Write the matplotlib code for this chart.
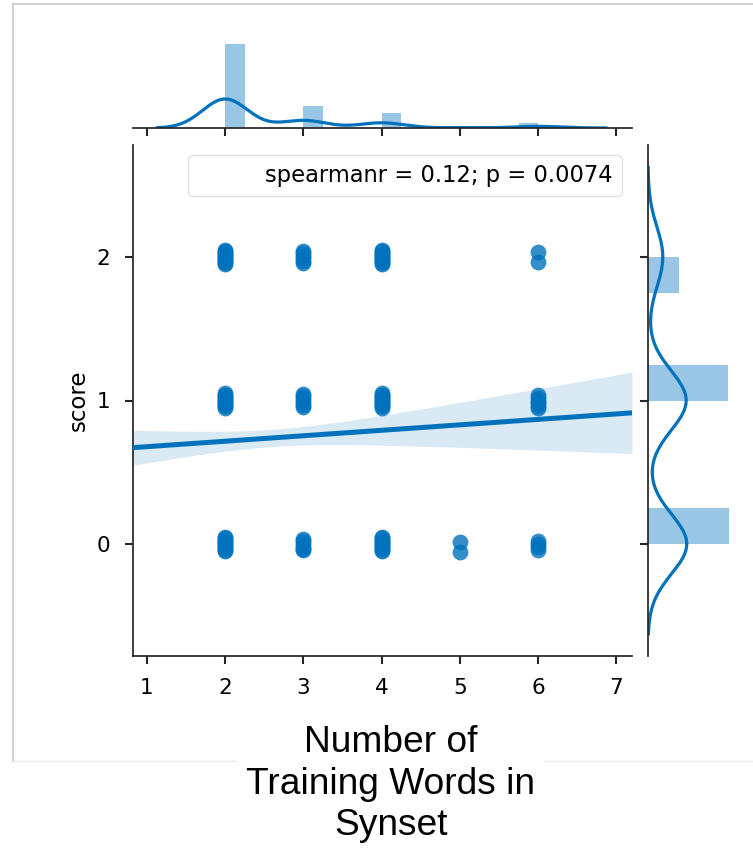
import numpy as np
import matplotlib
matplotlib.use("Agg")
import matplotlib.pyplot as plt
from matplotlib.lines import Line2D
from matplotlib.patches import Rectangle

# counts of items per (number of training words, score)
x_vals = [2, 3, 4, 5, 6]
count_score0 = [140, 35, 22, 4, 6]
count_score1 = [140, 32, 22, 0, 10]
count_score2 = [44, 18, 14, 0, 3]
scores = [0, 1, 2]

# jittered dot offsets (y) as they appear in each blob
full = [0.05, 0.04, 0.03, 0.02, 0.01, 0.0, -0.01, -0.02, -0.03, -0.04, -0.05]
jit_score0 = [full, [0.035, 0.02, 0.0, -0.02, -0.035, -0.045], full,
              [0.015, -0.055], [0.02, 0.0, -0.02, -0.045]]
jit_score1 = [full, [0.045, 0.03, 0.01, -0.01, -0.03, -0.045], full, [],
              [0.04, 0.02, 0.0, -0.02, -0.04, -0.05]]
jit_score2 = [full, [0.045, 0.03, 0.01, -0.01, -0.03, -0.045], full, [],
              [0.035, -0.035]]

stat_text = "spearmanr = 0.12; p = 0.0074"
x_ticks = [1, 2, 3, 4, 5, 6, 7]
y_ticks = [0, 1, 2]

blue = "#0072BD"
dark = "#262626"

# expand the count table into weighted samples
counts = np.array([count_score0, count_score1, count_score2], dtype=float)
xs = np.repeat(np.array(x_vals, float)[None, :], 3, axis=0).ravel()
ys = np.repeat(np.array(scores, float)[:, None], len(x_vals), axis=1).ravel()
w = counts.ravel()
n = w.sum()

fig = plt.figure(figsize=(7.53, 8.51), dpi=100)
W, H = 753.0, 851.0

def box(l, t, r, b):
    return [l / W, 1 - b / H, (r - l) / W, (b - t) / H]

ax = fig.add_axes(box(132.5, 145, 632, 656))
ax_top = fig.add_axes(box(132.5, 28, 632, 128), sharex=ax)
ax_right = fig.add_axes(box(648, 145, 753, 656), sharey=ax)

# scatter
for k, jit in enumerate([jit_score0, jit_score1, jit_score2]):
    for i, xv in enumerate(x_vals):
        if counts[k, i] == 0:
            continue
        offs = np.array(jit[i])
        ax.scatter(np.full(len(offs), xv), scores[k] + offs, s=130, color=blue,
                   alpha=0.8, linewidths=0, zorder=3)

xlim = (0.815, 7.2)
ylim = (-0.78, 2.78)
ax.set_xlim(xlim)
ax.set_ylim(ylim)

# weighted linear fit with 95% band
mx = np.sum(w * xs) / n
my = np.sum(w * ys) / n
sxx = np.sum(w * (xs - mx) ** 2)
slope = np.sum(w * (xs - mx) * (ys - my)) / sxx
icpt = my - slope * mx
resid = ys - (icpt + slope * xs)
s_err = np.sqrt(np.sum(w * resid ** 2) / (n - 2))
grid = np.linspace(xlim[0], xlim[1], 100)
fit = icpt + slope * grid
se = s_err * np.sqrt(1 / n + (grid - mx) ** 2 / sxx)
ax.fill_between(grid, fit - 1.85 * se, fit + 1.85 * se, color=blue, alpha=0.15,
                linewidth=0, zorder=2)
ax.plot(grid, fit, color=blue, lw=3.6, zorder=4)

# legend with stat
h = Rectangle((0, 0), 1, 1, visible=False)
leg = ax.legend([h], [stat_text], loc="upper right", fontsize=16.3,
                handlelength=2.2, frameon=True, borderaxespad=0.45)
leg.get_frame().set_edgecolor("0.85")

ax.set_xticks(x_ticks)
ax.set_yticks(y_ticks)
ax.set_ylabel("score", fontsize=16.5, labelpad=5)
ax.tick_params(labelsize=15.5, length=6, width=1.5, pad=10, color=dark)
for sp in ["top", "right"]:
    ax.spines[sp].set_visible(False)
for sp in ["left", "bottom"]:
    ax.spines[sp].set_color(dark)
    ax.spines[sp].set_linewidth(1.25)

def kde(data, weights, bw, support):
    d = (support[:, None] - data[None, :]) / bw
    return (np.exp(-0.5 * d ** 2) * weights[None, :]).sum(1) / (weights.sum() * bw * np.sqrt(2 * np.pi))

# top marginal
x_bins = np.linspace(2, 6, 17)
hx, _, _ = ax_top.hist(xs, bins=x_bins, weights=w, density=True, color=blue, alpha=0.4)
std_x = np.sqrt(np.sum(w * (xs - mx) ** 2) / (n - 1))
bw_x = std_x * n ** (-0.2)
sup_x = np.linspace(min(x_vals) - 3 * bw_x, max(x_vals) + 3 * bw_x, 200)
ax_top.plot(sup_x, kde(xs, w, bw_x, sup_x), color=blue, lw=2.3)
ax_top.set_ylim(0, hx.max() / 0.84)

# right marginal
y_bins = np.linspace(0, 2, 9)
hy, _, _ = ax_right.hist(ys, bins=y_bins, weights=w, density=True, color=blue, alpha=0.4,
                         orientation="horizontal")
std_y = np.sqrt(np.sum(w * (ys - my) ** 2) / (n - 1))
bw_y = std_y * n ** (-0.2)
sup_y = np.linspace(min(scores) - 3 * bw_y, max(scores) + 3 * bw_y, 200)
ax_right.plot(kde(ys, w, bw_y, sup_y), sup_y, color=blue, lw=2.3)
ax_right.set_xlim(0, hy.max() / 0.77)

for a in [ax_top, ax_right]:
    for sp in a.spines.values():
        sp.set_visible(False)
        sp.set_color(dark)
        sp.set_linewidth(1.25)
ax_top.spines["bottom"].set_visible(True)
ax_right.spines["left"].set_visible(True)
ax_top.tick_params(axis="x", labelbottom=False, length=6, width=1.5, color=dark)
ax_top.tick_params(axis="y", left=False, labelleft=False)
ax_right.tick_params(axis="y", labelleft=False, length=6, width=1.5, color=dark)
ax_right.tick_params(axis="x", bottom=False, labelbottom=False)

# screenshot frame
fig.add_artist(Line2D([13 / W, 13 / W], [1 - 761 / H, 1 - 4 / H], color="#c8c8c8", lw=1.2))
fig.add_artist(Line2D([13 / W, 1], [1 - 4 / H, 1 - 4 / H], color="#c8c8c8", lw=1.2))
fig.add_artist(Line2D([13 / W, 1], [1 - 761 / H, 1 - 761 / H], color="#ececec", lw=1.0))

fig.text(391 / W, 1 - 784 / H, "Number of\nTraining Words in\nSynset", ha="center",
         va="center", fontsize=26.7, family="Liberation Sans", linespacing=1.25,
         bbox=dict(facecolor="white", edgecolor="none", pad=6))

fig.savefig("out.png", dpi=100)
